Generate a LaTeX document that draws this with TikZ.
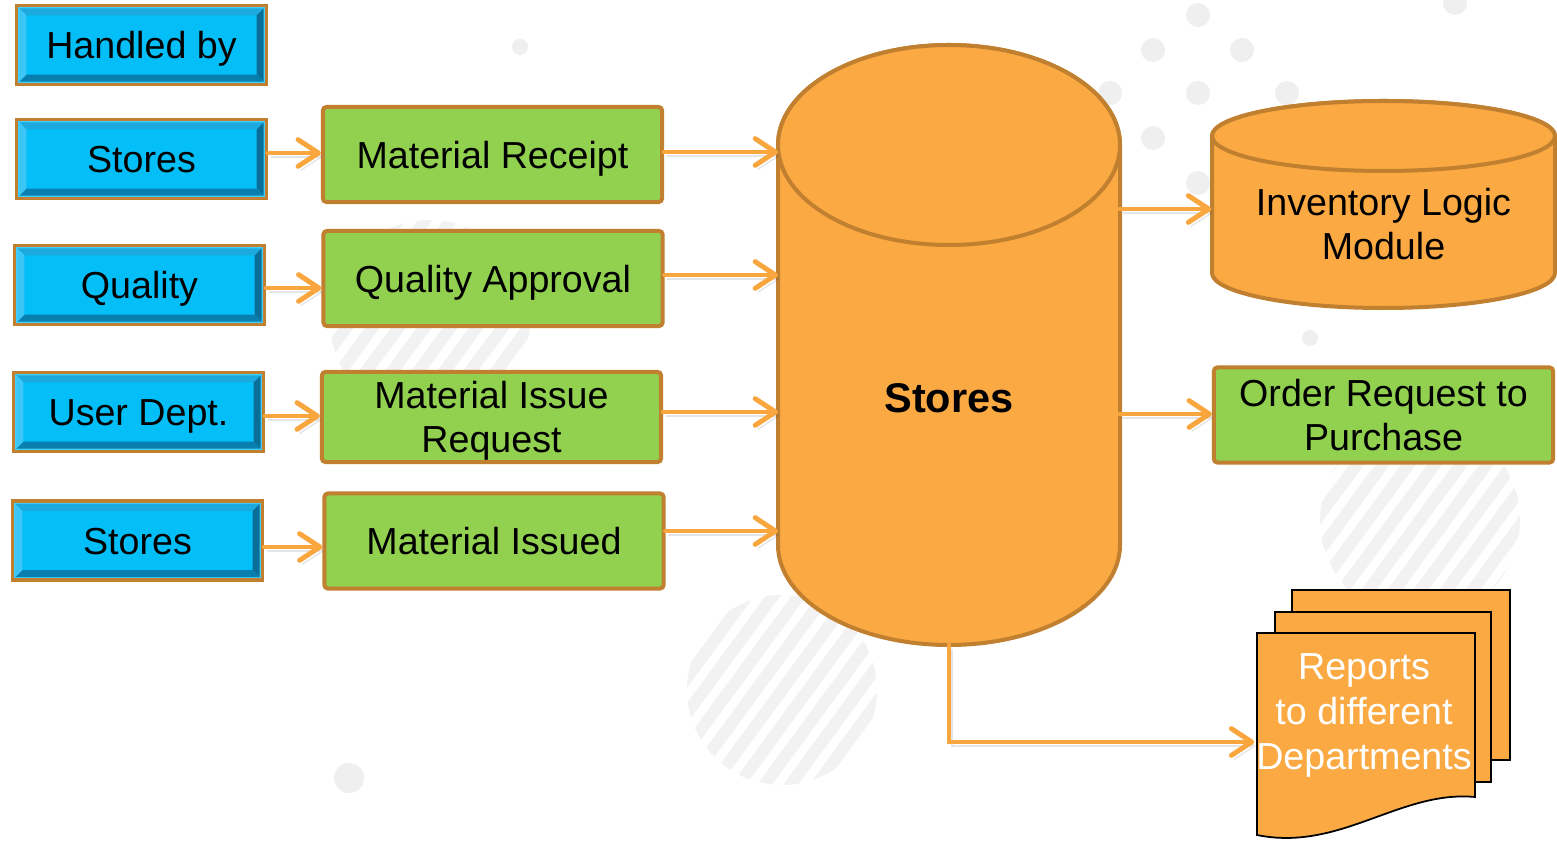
\documentclass[tikz,border=0pt]{standalone}
\usepackage{fontspec}
\setmainfont{Liberation Sans}
\usetikzlibrary{arrows.meta,calc}
\definecolor{orangec}{HTML}{FBA943}
\definecolor{brownc}{HTML}{C0802F}
\definecolor{greenc}{HTML}{92D050}
\definecolor{bluef}{HTML}{04BEF8}
\definecolor{bluerim}{HTML}{40CFFF}
\definecolor{bluetop}{HTML}{1CA9DE}
\definecolor{blueleft}{HTML}{3CC6F5}
\definecolor{blueright}{HTML}{0A6F98}
\definecolor{bluebot}{HTML}{087FAE}
\definecolor{arrowc}{HTML}{F9A63E}
\definecolor{dotc}{HTML}{EFEFEF}
\definecolor{stripec}{HTML}{F2F2F2}
\newcommand\myfs{\fontsize{10.7}{12.6}\selectfont}
\tikzset{
  bluebox/.style={draw=brownc, line width=0.9pt, fill=bluerim, minimum width=2.5cm, minimum height=0.79cm,
    inner sep=0pt, font=\myfs, text=black, text height=7.9pt, text depth=0pt,
    path picture={
      \fill[bluef] ([shift={(10,10)}]path picture bounding box.north west) rectangle ([shift={(-10,-10)}]path picture bounding box.south east);
      \fill[bluetop] ([shift={(3,3)}]path picture bounding box.north west) -- ([shift={(-3,3)}]path picture bounding box.north east) -- ([shift={(-10,10)}]path picture bounding box.north east) -- ([shift={(10,10)}]path picture bounding box.north west) -- cycle;
      \fill[bluebot] ([shift={(3,-3)}]path picture bounding box.south west) -- ([shift={(-3,-3)}]path picture bounding box.south east) -- ([shift={(-10,-10)}]path picture bounding box.south east) -- ([shift={(10,-10)}]path picture bounding box.south west) -- cycle;
      \fill[blueleft] ([shift={(3,3)}]path picture bounding box.north west) -- ([shift={(10,10)}]path picture bounding box.north west) -- ([shift={(10,-10)}]path picture bounding box.south west) -- ([shift={(3,-3)}]path picture bounding box.south west) -- cycle;
      \fill[blueright] ([shift={(-3,3)}]path picture bounding box.north east) -- ([shift={(-10,10)}]path picture bounding box.north east) -- ([shift={(-10,-10)}]path picture bounding box.south east) -- ([shift={(-3,-3)}]path picture bounding box.south east) -- cycle;
    }},
  greenbox/.style={draw=brownc, line width=1.14pt, fill=greenc, minimum width=3.39cm, minimum height=0.95cm,
    inner sep=0pt, align=center, font=\myfs, rounded corners=1pt},
  oneline/.style={text height=7.9pt, text depth=0pt},
  cyl/.style={fill=orangec, draw=brownc, line width=1.14pt},
  page/.style={fill=orangec, draw=black, line width=0.5pt},
  arr/.style={draw=arrowc, line width=1.4pt, line cap=round,
    -{Straight Barb[length=5.8pt, width=7.6pt, line cap=round, line join=round]},
    preaction={draw=black, opacity=0.10, transform canvas={shift={(0.8pt,-1.1pt)}}}},
}
\begin{document}
\begin{tikzpicture}[x=0.01cm, y=-0.01cm]
\useasboundingbox (0,0) rectangle (1557,843);
\fill[white] (0,0) rectangle (1557,843);

% faint background decoration
\begin{scope}
  \clip (1420,520) circle[radius=100];
  \foreach \i in {-9,...,9} \draw[stripec, line width=3.4pt] ({1420+\i*26-110},670) -- ({1420+\i*26+110},370);
\end{scope}
\begin{scope}
  \clip (430,320) circle[radius=100];
  \foreach \i in {-9,...,9} \draw[stripec, line width=3.4pt] ({430+\i*26-110},470) -- ({430+\i*26+110},170);
\end{scope}
\begin{scope}
  \clip (782,690) circle[radius=95];
  \foreach \i in {-9,...,9} \draw[stripec, line width=3.4pt] ({782+\i*26-110},840) -- ({782+\i*26+110},540);
\end{scope}
\foreach \p in {(1198,15),(1153,50),(1242,50),(1110,93),(1198,93),(1287,93),(1153,138),(1198,183),(1455,3)}
  \fill[dotc] \p circle[radius=12];
\fill[dotc] (520,47) circle[radius=8];
\fill[dotc] (349,778) circle[radius=15];
\fill[dotc] (1310,338) circle[radius=8];

% blue "handled by" boxes
\node[bluebox] (h0) at (141.5,45) {Handled by};
\node[bluebox] (b1) at (141.5,159) {Stores};
\node[bluebox] (b2) at (139.5,285) {Quality};
\node[bluebox] (b3) at (138.5,412) {User Dept.};
\node[bluebox] (b4) at (137.5,540.5) {Stores};

% green activity boxes
\node[greenbox, oneline] (g1) at (492.5,154.5) {Material Receipt};
\node[greenbox, oneline] (g2) at (493,278.5) {Quality Approval};
\node[greenbox, minimum height=0.90cm, text depth=0pt] (g3) at (491.5,417) {Material Issue\\Request};
\node[greenbox, oneline] (g4) at (494,541) {Material Issued};

% big Stores cylinder
\filldraw[cyl] (778,145) -- (778,545) arc[start angle=180, end angle=0, x radius=171, y radius=100]
  -- (1120,145) arc[start angle=0, end angle=-180, x radius=171, y radius=100] -- cycle;
\draw[cyl] (949,145) ellipse[x radius=171, y radius=100];
\coordinate (stW) at (778,345);
\coordinate (stE) at (1120,345);
\coordinate (stB) at (949,645);
\node[font=\bfseries\fontsize{11.8}{14}\selectfont] (stores) at (949,398) {Stores};

% Inventory Logic Module cylinder
\filldraw[cyl] (1212,136) -- (1212,273) arc[start angle=180, end angle=0, x radius=171.5, y radius=35]
  -- (1555,136) arc[start angle=0, end angle=-180, x radius=171.5, y radius=35] -- cycle;
\draw[cyl] (1383.5,136) ellipse[x radius=171.5, y radius=35];
\node[align=center, font=\myfs, minimum width=3.43cm, inner sep=0pt] (inv) at (1383.5,224) {Inventory Logic\\Module};

% Order request box
\node[greenbox] (ord) at (1383.5,415) {Order Request to\\Purchase};

% Reports document stack
\filldraw[page] (1292,590) rectangle (1510,760);
\filldraw[page] (1275,612) rectangle (1491,782);
\filldraw[page] (1257,633) -- (1475,633) -- (1475,797) .. controls (1400,790) and (1340,852) .. (1257,835) -- cycle;
\node[text=white, align=center, font=\fontsize{10.7}{12.8}\selectfont, minimum width=2.18cm, inner sep=0pt, text depth=0pt] (rep) at (1364,712) {Reports\\to different\\Departments};

% connectors
\draw[arr] (b1.east |- 0,153) -- (g1.west |- 0,153);
\draw[arr] (b2.east |- 0,288) -- (g2.west |- 0,288);
\draw[arr] (b3.east |- 0,416) -- (g3.west |- 0,416);
\draw[arr] (b4.east |- 0,547) -- (g4.west |- 0,547);
\draw[arr] (g1.east |- 0,152) -- (stW |- 0,152);
\draw[arr] (g2.east |- 0,275) -- (stW |- 0,275);
\draw[arr] (g3.east |- 0,412) -- (stW |- 0,412);
\draw[arr] (g4.east |- 0,531) -- (stW |- 0,531);
\draw[arr] (stE |- 0,209) -- (inv.west |- 0,209);
\draw[arr] (stE |- 0,414) -- (ord.west |- 0,414);
\draw[arr] (stB) |- (rep.west |- 0,742);
\end{tikzpicture}
\end{document}
